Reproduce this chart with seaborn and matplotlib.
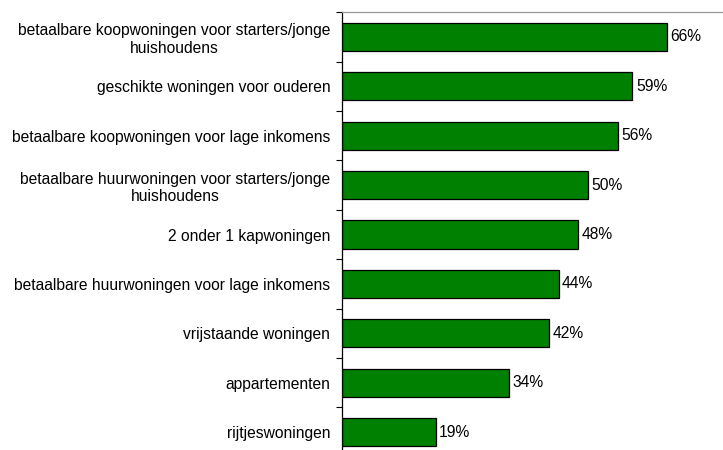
import numpy as np
import pandas as pd
import matplotlib
matplotlib.use("Agg")
import matplotlib.pyplot as plt
import seaborn as sns

# data
categorieen = [
    "betaalbare koopwoningen voor starters/jonge\nhuishoudens",
    "geschikte woningen voor ouderen",
    "betaalbare koopwoningen voor lage inkomens",
    "betaalbare huurwoningen voor starters/jonge\nhuishoudens",
    "2 onder 1 kapwoningen",
    "betaalbare huurwoningen voor lage inkomens",
    "vrijstaande woningen",
    "appartementen",
    "rijtjeswoningen",
]
percentages = [66, 59, 56, 50, 48, 44, 42, 34, 19]

df = pd.DataFrame({"categorie": categorieen, "pct": percentages})

sns.set_style("white")
plt.rcParams["font.family"] = ["Liberation Sans", "DejaVu Sans"]
plt.rcParams["text.color"] = "black"
plt.rcParams["ytick.labelcolor"] = "black"

fig = plt.figure(figsize=(7.23, 4.5), dpi=100)
ax = fig.add_axes([342 / 723, 1 - 456.7 / 450, (723 - 342) / 723, (456.7 - 12.3) / 450])

sns.barplot(data=df, y="categorie", x="pct", orient="h", color="#008000",
            saturation=1, width=0.57, edgecolor="black", linewidth=0.9, ax=ax)

ax.set_xlim(0, 77.4)
ax.set_ylim(8.5, -0.5)
ax.set_xlabel("")
ax.set_ylabel("")
ax.set_xticks([])

# percentage labels
for i, v in enumerate(percentages):
    ax.text(v + 0.7, i, f"{v}%", va="center", ha="left", fontsize=11.25, color="black")

# tick marks between categories
ax.set_yticks(np.arange(-0.5, 9, 1), minor=True)
ax.tick_params(axis="y", which="minor", length=4, width=0.8, color="black", left=True)
ax.tick_params(axis="y", which="major", length=0, pad=8.5, labelsize=11.25, labelcolor="black")
for lbl in ax.get_yticklabels():
    lbl.set_multialignment("center")

for s in ["right", "bottom"]:
    ax.spines[s].set_visible(False)
ax.spines["left"].set_color("black")
ax.spines["left"].set_linewidth(0.9)
ax.spines["top"].set_color("#999999")
ax.spines["top"].set_linewidth(0.9)

fig.savefig("out.png", dpi=100)
